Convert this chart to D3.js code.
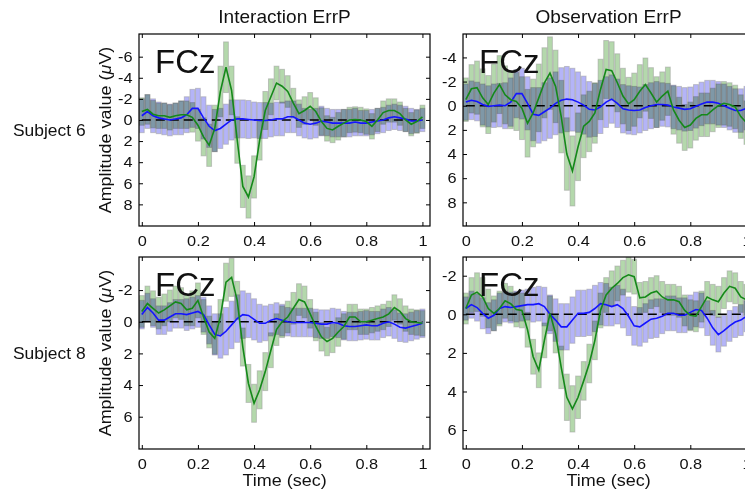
<!DOCTYPE html>
<html>
<head>
<meta charset="utf-8">
<script src="https://d3js.org/d3.v7.min.js"></script>
<style>
  body { margin: 0; background: #fff; }
  svg text { font-family: "Liberation Sans", Arial, Helvetica, sans-serif; fill: #111; }
  .bar { mix-blend-mode: multiply; }
</style>
</head>
<body>
<div id="chart"></div>
<script>
// sample times (sec)
var times = [0,0.02,0.04,0.06,0.08,0.1,0.12,0.14,0.16,0.18,
             0.2,0.22,0.24,0.26,0.28,0.3,0.32,0.34,0.36,0.38,0.4,0.42,
             0.44,0.46,0.48,0.5,0.52,0.54,0.56,0.58,0.6,
             0.62,0.64,0.66,0.68,0.7,0.72,0.74,0.76,0.78,0.8,0.82,0.84,0.86,0.88,0.9,0.92,0.94,0.96,0.98,1];

var colTitles = ["Interaction ErrP", "Observation ErrP"];
var rowTitles = ["Subject 6", "Subject 8"];

// Subject 6, interaction
var s6IntErr = [-0.8,-1.0,-0.55,-0.4,-0.4,-0.25,-0.4,-0.5,-0.5,-0.25,
  0.5,1.6,2.4,0.8,-2.7,-5.0,-2.8,1.9,6.3,7.3,5.4,1.9,
  -0.9,-2.2,-3.5,-3.2,-2.7,-1.6,-0.6,-0.9,-1.3,
  -0.8,0.15,0.8,0.95,0.6,0.3,0,-0.05,0,0.15,0.6,0,-0.7,-0.9,-0.9,-0.6,0,0.4,0.15,-0.3];
var s6IntErrSd = [1.3,1.4,1.3,1.2,1.2,1.2,1.2,1.3,1.3,1.4,
  1.5,1.8,2.0,2.2,2.4,2.4,2.3,2.2,2.0,2.0,2.0,1.9,
  1.8,1.7,1.6,1.6,1.5,1.4,1.3,1.3,1.3,
  1.3,1.3,1.2,1.2,1.3,1.3,1.2,1.2,1.2,1.2,1.2,1.1,1.1,1.1,1.1,1.1,1.1,1.1,1.1,1.1];
var s6IntCor = [-0.4,-0.8,-0.4,-0.2,-0.1,0,-0.1,-0.2,-0.5,-1.1,
  -1.1,-0.2,0.6,1.0,0.8,0.4,0,-0.1,-0.1,-0.05,0,0.05,
  0.05,0,-0.1,-0.1,-0.3,-0.3,0,0.3,0.4,
  0.3,0.1,0.2,0.3,0.3,0.3,0.3,0.2,0.3,0.3,0.2,0.1,0,-0.2,-0.3,-0.2,-0.1,0.1,0.1,0];
var s6IntCorSd = [1.6,1.6,1.6,1.5,1.5,1.5,1.5,1.6,1.7,1.8,
  1.9,2.0,2.0,2.0,1.9,1.9,1.9,1.8,1.8,1.8,1.7,1.7,
  1.7,1.6,1.6,1.6,1.5,1.5,1.5,1.4,1.4,
  1.4,1.4,1.3,1.3,1.3,1.3,1.3,1.3,1.2,1.2,1.2,1.2,1.2,1.2,1.2,1.2,1.2,1.2,1.1,1.1];

// Subject 6, observation
var s6ObsErr = [-0.5,-1.4,-1.5,-0.65,-0.1,-1.05,-1.75,-0.9,-0.5,-0.35,
  0.2,1.45,0.6,-0.65,-1.9,-2.7,-1.6,0.9,4.0,5.4,3.4,1.7,
  1.3,0.6,-1.35,-3.0,-2.9,-1.9,-0.8,-0.15,-0.5,
  -1.2,-1.75,-1.05,-0.3,-0.8,-1.2,0.35,1.2,1.8,1.6,1.05,0.75,0.75,0.35,0,-0.2,-0.1,0.1,0.9,1.4];
var s6ObsErrSd = [1.8,2.0,2.2,2.4,2.4,2.4,2.4,2.4,2.4,2.4,
  2.6,2.8,2.8,2.8,2.9,3.0,3.0,3.0,3.0,2.9,2.8,2.6,
  2.5,2.5,2.5,2.4,2.4,2.4,2.3,2.2,2.2,
  2.2,2.2,2.1,2.1,2.0,2.0,2.0,1.9,1.9,1.9,1.8,1.8,1.8,1.8,1.8,1.8,1.8,1.8,1.8,1.8];
var s6ObsCor = [-0.3,-0.45,-0.35,-0.1,0.05,0,-0.05,0,-0.3,-1.0,
  -1.0,-0.2,0.7,0.8,0.5,0.2,-0.2,-0.45,-0.55,-0.5,-0.3,-0.05,
  0.3,0.35,0.1,-0.3,-0.55,-0.2,0.25,0.35,0.4,
  0.35,0.15,0,-0.1,-0.1,-0.05,0.1,0.2,0.3,0.25,0.05,-0.15,-0.3,-0.3,-0.2,0,0.2,0.4,0.4,0.2];
var s6ObsCorSd = [1.5,1.6,1.6,1.7,1.7,1.8,1.8,1.9,2.0,2.0,
  2.1,2.2,2.2,2.3,2.4,2.5,2.6,2.7,2.7,2.6,2.5,2.4,
  2.3,2.2,2.2,2.1,2.0,2.0,2.0,2.0,2.0,
  1.9,1.9,1.9,1.9,1.8,1.8,1.8,1.8,1.8,1.8,1.8,1.8,1.8,1.8,1.8,1.8,1.8,1.8,1.8,1.8];

// Subject 8, interaction
var s8IntErr = [-0.65,-1.15,-0.85,-0.55,-0.75,-1.0,-1.25,-1.15,-0.75,-0.85,
  -1.35,-0.3,0.65,1.05,-0.3,-2.5,-2.8,-1.35,1.6,3.9,5.15,4.3,
  3.15,1.8,0.5,0,-0.3,-0.85,-1.4,-1.25,-0.5,
  0.3,0.95,1.25,1.05,0.65,0.3,-0.3,-0.3,0,0,-0.1,-0.2,-0.3,-0.5,-0.9,-0.65,-0.2,0,0.05,0.1];
var s8IntErrSd = [1.0,1.1,1.1,1.0,1.0,1.0,1.0,1.0,1.0,1.1,
  1.1,1.1,1.0,1.0,1.1,1.2,1.2,1.2,1.2,1.2,1.2,1.2,
  1.2,1.1,1.0,1.0,1.0,1.0,1.0,1.0,0.9,
  0.9,0.9,0.9,0.9,0.9,0.8,0.8,0.8,0.8,0.8,0.8,0.8,0.8,0.8,0.8,0.8,0.8,0.8,0.8,0.8];
var s8IntCor = [-0.45,-0.9,-0.55,-0.1,-0.1,-0.3,-0.5,-0.5,-0.45,-0.55,
  -0.65,-0.45,0.2,0.8,0.9,0.6,0.2,-0.2,-0.45,-0.4,-0.15,0.1,
  0.1,-0.1,-0.2,-0.1,0,0.05,0.05,0.05,0.05,
  0.1,0.15,0.15,0.05,0.1,0.25,0.3,0.3,0.25,0.2,0.25,0.25,0.1,0,0.15,0.35,0.4,0.3,0.2,0.1];
var s8IntCorSd = [0.9,0.9,0.9,0.9,0.9,0.9,0.9,0.9,1.0,1.0,
  1.0,1.1,1.2,1.3,1.4,1.5,1.5,1.5,1.5,1.4,1.3,1.2,
  1.1,1.0,1.0,1.0,0.9,0.9,0.9,0.9,0.9,
  0.9,0.9,0.9,0.9,0.9,0.9,0.9,0.9,0.9,0.9,0.9,0.9,0.9,0.9,0.9,0.9,0.9,0.9,0.9,0.9];

// Subject 8, observation
var s8ObsErr = [-0.3,-1.0,-1.15,-0.9,-0.3,-0.05,-0.3,-0.7,-0.55,-0.25,
  -0.2,0.8,2.2,2.9,1.35,-0.05,1.0,2.75,4.3,4.9,4.3,3.45,
  2.55,1.35,-0.2,-1.0,-1.35,-1.6,-1.9,-2.05,-1.95,
  -0.85,-0.9,-1.1,-1.2,-0.9,-0.75,-0.75,-0.65,-0.2,0.05,0.1,-0.4,-0.9,-0.75,-0.65,-1.1,-1.45,-1.35,-0.9,-0.75];
var s8ObsErrSd = [0.8,0.9,1.0,1.0,1.0,0.9,0.9,0.9,0.9,0.9,
  0.9,0.9,0.9,0.9,0.9,0.9,1.0,1.1,1.2,1.2,1.1,1.0,
  1.0,1.0,0.9,0.9,0.9,0.9,0.9,0.9,0.9,
  0.8,0.8,0.8,0.8,0.8,0.8,0.8,0.8,0.8,0.8,0.8,0.8,0.8,0.8,0.8,0.8,0.8,0.8,0.8,0.8];
var s8ObsCor = [-0.3,-0.5,-0.35,-0.05,0.2,0.05,-0.3,-0.4,-0.35,-0.4,
  -0.45,-0.5,-0.5,-0.55,-0.4,0,0.3,0.65,0.65,0.3,-0.05,-0.05,
  -0.1,-0.3,-0.55,-0.5,-0.4,-0.5,-0.3,0.1,0.6,
  0.65,0.45,0.25,0.2,0.1,-0.05,-0.05,0.05,0.05,-0.1,-0.25,-0.2,0.2,0.7,1.05,0.85,0.6,0.4,0.3,0.1];
var s8ObsCorSd = [0.6,0.7,0.7,0.8,0.8,0.8,0.8,0.8,0.8,0.8,
  0.8,0.8,0.9,0.9,1.0,1.0,1.1,1.2,1.2,1.2,1.2,1.2,
  1.2,1.2,1.1,1.1,1.0,1.0,1.0,1.0,1.0,
  1.0,1.0,1.0,1.0,0.9,0.9,0.9,0.9,0.9,0.9,0.9,0.9,0.9,0.9,0.9,0.8,0.8,0.8,0.8,0.8];

var xTicks = [0, 0.2, 0.4, 0.6, 0.8, 1];
var yTicksTop = [-6, -4, -2, 0, 2, 4, 6, 8];
var yTicksBottom = [-2, 0, 2, 4, 6];

var panels = [
  { col: 0, row: 0, ydom: [-8.15, 10.05], yticks: yTicksTop,    err: s6IntErr, errSd: s6IntErrSd, cor: s6IntCor, corSd: s6IntCorSd },
  { col: 1, row: 0, ydom: [-5.94, 9.96],  yticks: yTicksTop.slice(1), err: s6ObsErr, errSd: s6ObsErrSd, cor: s6ObsCor, corSd: s6ObsCorSd },
  { col: 0, row: 1, ydom: [-4.09, 8.04],  yticks: yTicksBottom, err: s8IntErr, errSd: s8IntErrSd, cor: s8IntCor, corSd: s8IntCorSd },
  { col: 1, row: 1, ydom: [-2.97, 6.98],  yticks: yTicksBottom, err: s8ObsErr, errSd: s8ObsErrSd, cor: s8ObsCor, corSd: s8ObsCorSd }
];

var W = 745, H = 493
  , colX = [139, 463]       // left edge of each column
  , panelW = 291
  , rowY = [[34, 226], [257, 449]]
  , SX = 1.09                // text is slightly wide in the original
  , barW = 4.8
  , errColor = '#15891a'
  , corColor = '#1414ff';

var svg = d3.select('#chart').append('svg').attr('width', W).attr('height', H);
var defs = svg.append('defs');

function label(g, x, y, str, size, anchor, rot) {
  return g.append('text')
    .attr('transform', 'translate(' + x + ',' + y + ')' + (rot ? ' rotate(' + rot + ')' : '') + ' scale(' + SX + ',1)')
    .attr('text-anchor', anchor)
    .style('font-size', size + 'px')
    .text(str);
}

function drawBars(g, x, y, mean, sd, fill) {
  g.append('g').selectAll('rect')
    .data(times)
    .enter().append('rect')
    .attr('class', 'bar')
    .attr('x', function(t) { return x(t) - barW / 2; })
    .attr('width', barW)
    .attr('y', function(t, i) { return y(mean[i] - sd[i]); })
    .attr('height', function(t, i) { return y(mean[i] + sd[i]) - y(mean[i] - sd[i]); })
    .attr('fill', fill)
    .attr('stroke', '#9a9a9a')
    .attr('stroke-opacity', 0.5)
    .attr('stroke-width', 1);
}

panels.forEach(function(p, k) {
  var left = colX[p.col], top = rowY[p.row][0], bottom = rowY[p.row][1];
  var x = d3.scaleLinear().domain([-0.01, 1.027]).range([left, left + panelW]);
  var y = d3.scaleLinear().domain(p.ydom).range([top, bottom]);

  defs.append('clipPath').attr('id', 'clip' + k)
    .append('rect').attr('x', left).attr('y', top).attr('width', panelW).attr('height', bottom - top);

  var g = svg.append('g');
  var plot = g.append('g').attr('clip-path', 'url(#clip' + k + ')').style('isolation', 'isolate');

  // error bars: correct (blue) and error (green) conditions
  drawBars(plot, x, y, p.cor, p.corSd, '#b4b4f8');
  drawBars(plot, x, y, p.err, p.errSd, '#b4d8ac');

  // zero reference
  plot.append('line')
    .attr('x1', x(0)).attr('x2', x(1))
    .attr('y1', y(0)).attr('y2', y(0))
    .attr('stroke', '#000').attr('stroke-width', 1.6)
    .attr('stroke-dasharray', '9,5');

  var line = function(vals) {
    return d3.line()
      .x(function(t) { return x(t); })
      .y(function(t, i) { return y(vals[i]); })(times);
  };
  plot.append('path').attr('d', line(p.cor))
    .attr('fill', 'none').attr('stroke', corColor).attr('stroke-width', 1.6);
  plot.append('path').attr('d', line(p.err))
    .attr('fill', 'none').attr('stroke', errColor).attr('stroke-width', 1.6);

  // axes, ticks pointing inward on all sides
  var axB = g.append('g').attr('transform', 'translate(0,' + bottom + ')')
    .call(d3.axisBottom(x).tickValues(xTicks).tickSizeInner(-4).tickSizeOuter(0).tickPadding(9)
      .tickFormat(function(d) { return String(d); }));
  var axT = g.append('g').attr('transform', 'translate(0,' + top + ')')
    .call(d3.axisTop(x).tickValues(xTicks).tickSizeInner(-4).tickSizeOuter(0).tickFormat(''));
  var axL = g.append('g').attr('transform', 'translate(' + left + ',0)')
    .call(d3.axisLeft(y).tickValues(p.yticks).tickSizeInner(-4).tickSizeOuter(0).tickPadding(6)
      .tickFormat(function(d) { return String(d); }));
  var axR = g.append('g').attr('transform', 'translate(' + (left + panelW) + ',0)')
    .call(d3.axisRight(y).tickValues(p.yticks).tickSizeInner(-4).tickSizeOuter(0).tickFormat(''));

  [axB, axT, axL, axR].forEach(function(a) {
    a.select('.domain').remove();
    a.selectAll('line').attr('stroke', '#000');
    a.selectAll('text')
      .attr('transform', 'scale(' + SX + ',1)')
      .style('font-size', '15px')
      .style('font-family', '"Liberation Sans", Arial, sans-serif')
      .attr('fill', '#111');
  });

  g.append('rect')
    .attr('x', left).attr('y', top).attr('width', panelW).attr('height', bottom - top)
    .attr('fill', 'none').attr('stroke', '#000').attr('stroke-width', 1.2);

  g.append('text')
    .attr('x', left + 16).attr('y', top + 38.5)
    .style('font-size', '33px')
    .attr('fill', '#000')
    .text('FCz');

  if (p.col === 0) {
    var yl = label(g, 111, (top + bottom) / 2, '', 16.5, 'middle', -90);
    yl.append('tspan').text('Amplitude value (');
    yl.append('tspan').style('font-style', 'italic').text('\u03bc');
    yl.append('tspan').text('V)');
  }
  if (p.row === 1) {
    label(g, left + panelW / 2, 486, 'Time (sec)', 16.5, 'middle');
  }
  if (p.row === 0) {
    label(g, left + panelW / 2, 22.5, colTitles[p.col], 17.5, 'middle');
  }
  if (p.col === 0) {
    label(g, 13, (top + bottom) / 2 + 6, rowTitles[p.row], 16, 'start');
  }
});
</script>
</body>
</html>
